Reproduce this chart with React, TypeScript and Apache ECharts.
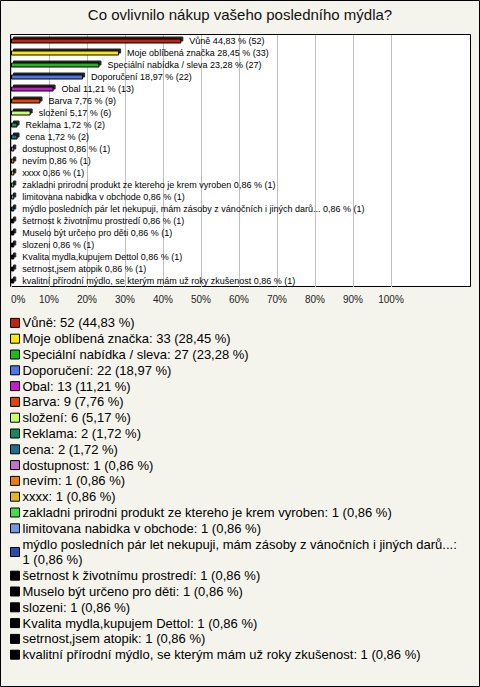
import React, { useEffect, useRef } from "react";
import * as echarts from "echarts";

const categories = [
  "Vůně",
  "Moje oblíbená značka",
  "Speciální nabídka / sleva",
  "Doporučení",
  "Obal",
  "Barva",
  "složení",
  "Reklama",
  "cena",
  "dostupnost",
  "nevím",
  "xxxx",
  "zakladni prirodni produkt ze ktereho je krem vyroben",
  "limitovana nabidka v obchode",
  "mýdlo posledních pár let nekupuji, mám zásoby z vánočních i jiných darů...",
  "šetrnost k životnímu prostredí",
  "Muselo být určeno pro děti",
  "slozeni",
  "Kvalita mydla,kupujem Dettol",
  "setrnost,jsem atopik",
  "kvalitní přírodní mýdlo, se kterým mám už roky zkušenost",
];
const counts = [52, 33, 27, 22, 13, 9, 6, 2, 2, 1, 1, 1, 1, 1, 1, 1, 1, 1, 1, 1, 1];
const percents = [
  44.83, 28.45, 23.28, 18.97, 11.21, 7.76, 5.17, 1.72, 1.72, 0.86, 0.86, 0.86, 0.86,
  0.86, 0.86, 0.86, 0.86, 0.86, 0.86, 0.86, 0.86,
];
const colors = [
  "#c4220c", "#ffe800", "#1cbb1c", "#4a78ea", "#c61ccc", "#e2420c", "#ccff66",
  "#128c5c", "#1f6f8c", "#c272c9", "#ef7a10", "#e6b41e", "#44dd44", "#6f98e0",
  "#2a4ab2", "#000000", "#000000", "#000000", "#000000", "#000000", "#000000",
];
const xTicks = [0, 10, 20, 30, 40, 50, 60, 70, 80, 90, 100];
const wrapLegendIndex = 14;

const FONT = "'Liberation Sans', Arial, sans-serif";
const fmt = (v: number) => v.toFixed(2).replace(".", ",");

export default function App() {
  const ref = useRef<HTMLDivElement>(null);
  useEffect(() => {
    if (!ref.current) return;
    const chart = echarts.init(ref.current, undefined, { renderer: "svg" });
    const series = categories.map((name, i) => ({
      type: "bar",
      name,
      stack: "all",
      barWidth: 5,
      data: categories.map((_, j) => (j === i ? percents[i] : "-")),
      itemStyle: {
        color: colors[i],
        borderColor: "#000",
        borderWidth: 1,
        shadowColor: "rgba(0,0,0,0.85)",
        shadowOffsetX: 2,
        shadowOffsetY: -2,
        shadowBlur: 0,
      },
      label: {
        show: true,
        position: "right",
        distance: 8,
        fontSize: 9,
        color: "#000",
        fontFamily: FONT,
        formatter: () => `${name} ${fmt(percents[i])} % (${counts[i]})`,
      },
      emphasis: { disabled: true },
    }));
    chart.setOption({
      animation: false,
      backgroundColor: "#f4f4ec",
      title: {
        text: "Co ovlivnilo nákup vašeho posledního mýdla?",
        left: "center",
        top: 2,
        textStyle: { fontSize: 15, fontWeight: "normal", color: "#111", fontFamily: FONT },
      },
      graphic: [
        {
          type: "rect",
          z: -10,
          shape: { x: 0.5, y: 0.5, width: 479, height: 686 },
          style: { fill: "#f4f4ec", stroke: "#000", lineWidth: 1 },
        },
        {
          type: "rect",
          z: -5,
          shape: { x: 10.5, y: 34.5, width: 460, height: 252 },
          style: { fill: "#fff", stroke: "#000", lineWidth: 1 },
        },
      ],
      grid: { left: 11, top: 35, width: 380, height: 252, containLabel: false },
      xAxis: {
        type: "value",
        min: xTicks[0],
        max: xTicks[xTicks.length - 1],
        interval: xTicks[1] - xTicks[0],
        axisLine: { show: false },
        axisTick: { show: false },
        splitLine: { show: true, lineStyle: { color: "#c0c0c0", width: 1 } },
        axisLabel: {
          formatter: (v: number) => `${v}%`,
          fontSize: 10,
          color: "#222",
          fontFamily: FONT,
          margin: 7,
          alignMinLabel: "left",
        },
      },
      yAxis: {
        type: "category",
        data: categories,
        inverse: true,
        axisLine: { show: false },
        axisTick: { show: false },
        axisLabel: { show: false },
        splitLine: { show: false },
      },
      legend: {
        orient: "vertical",
        left: 10,
        top: 315,
        padding: 0,
        itemWidth: 9,
        itemHeight: 9,
        itemGap: 0,
        icon: "rect",
        selectedMode: false,
        data: categories,
        itemStyle: {
          borderColor: "#000",
          borderWidth: 1,
          shadowColor: "transparent",
          shadowOffsetX: 0,
          shadowOffsetY: 0,
        },
        textStyle: {
          fontSize: 13,
          lineHeight: 15.8,
          color: "#000",
          fontFamily: FONT,
          padding: [0, 0, 0, -2],
        },
        formatter: (name: string) => {
          const i = categories.indexOf(name);
          const sep = i === wrapLegendIndex ? ":\n" : ": ";
          return `${name}${sep}${counts[i]} (${fmt(percents[i])} %)`;
        },
      },
      series,
    });
    return () => chart.dispose();
  }, []);
  return (
    <div
      ref={ref}
      style={{ position: "absolute", left: 0, top: 0, width: 480, height: 687 }}
    />
  );
}
